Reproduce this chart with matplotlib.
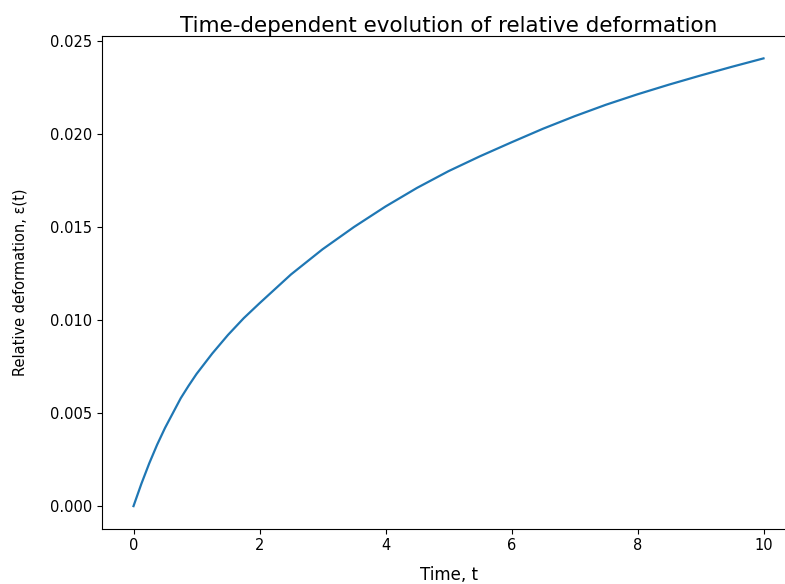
import matplotlib
matplotlib.use("Agg")
import matplotlib.pyplot as plt

# values
time = [0, 0.125, 0.25, 0.375, 0.5, 0.625, 0.75, 0.875, 1.0, 1.25, 1.5, 1.75,
        2.0, 2.5, 3.0, 3.5, 4.0, 4.5, 5.0, 5.5, 6.0, 6.5, 7.0, 7.5, 8.0,
        8.5, 9.0, 9.5, 10.0]
strain = [0.0, 0.0012, 0.0023, 0.0033, 0.0042, 0.0050, 0.0058, 0.00647,
          0.0071, 0.0082, 0.0092, 0.0101, 0.0109, 0.01245, 0.0138, 0.0150,
          0.0161, 0.0171, 0.0180, 0.0188, 0.01955, 0.02028, 0.02095,
          0.02157, 0.02213, 0.02265, 0.02314, 0.02361, 0.02406]

W, H = 785, 584
fig = plt.figure(figsize=(W / 100, H / 100), dpi=100)
# axes run past the right edge, as in the cropped reference
left, right, top, bottom = 102, 795, 36, 528.5
ax = fig.add_axes([left / W, 1 - bottom / H, (right - left) / W, (bottom - top) / H])

ax.plot(time, strain, color="#1f77b4", linewidth=1.6)
ax.set_xticks([0, 2, 4, 6, 8, 10])
ax.set_yticks([0.0, 0.005, 0.010, 0.015, 0.020, 0.025])
ax.yaxis.set_major_formatter(matplotlib.ticker.FormatStrFormatter("%.3f"))
ax.tick_params(labelsize=10.5)

ax.set_title("Time-dependent evolution of relative deformation", fontsize=15.5, pad=3)
ax.set_xlabel("Time, t", fontsize=12, labelpad=9)
ax.set_ylabel("Relative deformation, ε(t)", fontsize=10.5)
ax.yaxis.set_label_coords(-0.107, 0.5)

fig.savefig("out.png", dpi=100)
